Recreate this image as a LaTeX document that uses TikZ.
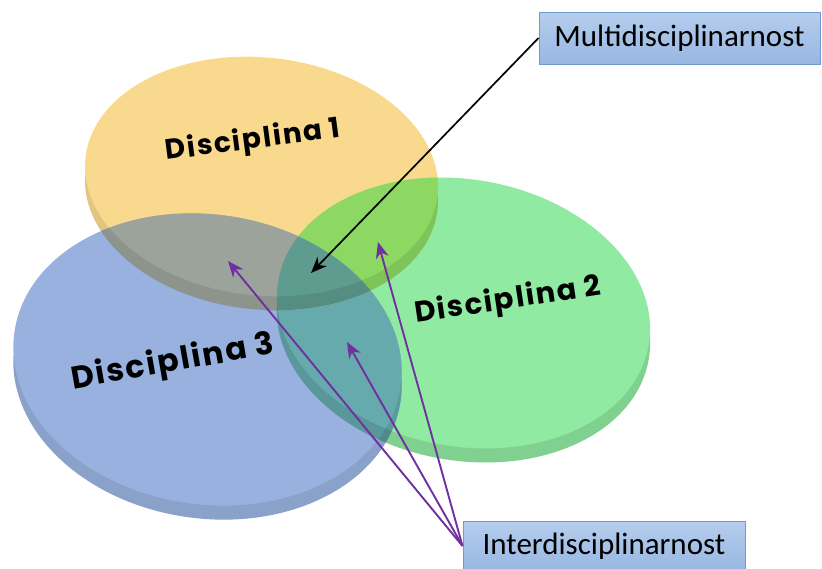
\documentclass[tikz,border=0pt]{standalone}
\usepackage{fontspec}
\setmainfont{Carlito}
\newfontfamily\discfont{Poppins}[LetterSpace=6]
\usetikzlibrary{arrows.meta}
\definecolor{ycol}{HTML}{F9D98D}
\definecolor{gcol}{HTML}{90EAA2}
\definecolor{bcol}{HTML}{98B1DE}
\definecolor{ygcol}{HTML}{8CD862}
\definecolor{ybcol}{HTML}{9CA39A}
\definecolor{gbcol}{HTML}{66AAAE}
\definecolor{ygbcol}{HTML}{5F9C90}
\definecolor{boxtop}{HTML}{B6CEEE}
\definecolor{boxbot}{HTML}{97B6E1}
\definecolor{boxline}{HTML}{6F99CF}
\definecolor{purp}{HTML}{7030A0}
\def\Ytop{(261.5,176.5) ellipse[x radius=177,y radius=119,rotate=-6]}
\def\Yside{(261.5,190.5) ellipse[x radius=177,y radius=119,rotate=-6]}
\def\Gtop{(463.5,313) ellipse[x radius=188,y radius=133.5,rotate=-10]}
\def\Gside{(463.5,327) ellipse[x radius=188,y radius=133.5,rotate=-10]}
\def\Btop{(207.5,359.5) ellipse[x radius=195,y radius=145,rotate=-8]}
\def\Bside{(207.5,373.5) ellipse[x radius=195,y radius=145,rotate=-8]}
\begin{document}
\begin{tikzpicture}[x=1pt,y=-1pt,
  infobox/.style={draw=boxline, line width=1pt, top color=boxtop, bottom color=boxbot,
    font=\fontsize{31}{36}\selectfont, text=black, inner sep=0pt},
  disclabel/.style={font=\discfont\bfseries\fontsize{28}{32}\selectfont, text=black, inner sep=0pt},
  multiarrow/.style={draw=black, line width=1.7pt, -{Stealth[length=16pt,width=13pt,inset=5pt]}},
  interarrow/.style={draw=purp, line width=1.9pt, -{Stealth[length=16pt,width=13pt,inset=5pt]}}]
\useasboundingbox (0,0) rectangle (822,568);
% base fills
\fill[ycol] \Ytop \Yside;
\fill[gcol] \Gtop \Gside;
\fill[bcol] \Btop \Bside;
% overlaps
\begin{scope}
  \clip \Gtop \Gside;
  \fill[gbcol] \Btop \Bside;
\end{scope}
\begin{scope}
  \clip \Ytop \Yside;
  \fill[ygcol] \Gtop \Gside;
  \fill[ybcol] \Btop \Bside;
  \clip \Gtop \Gside;
  \fill[ygbcol] \Btop \Bside;
\end{scope}
% rims
\begin{scope}[even odd rule]
  \clip (-50,-50) rectangle (900,700) \Ytop;
  \fill[black, fill opacity=0.09] \Yside;
\end{scope}
\begin{scope}[even odd rule]
  \clip (-50,-50) rectangle (900,700) \Gtop;
  \fill[black, fill opacity=0.11] \Gside;
\end{scope}
\begin{scope}[even odd rule]
  \clip (-50,-50) rectangle (900,700) \Btop;
  \fill[black, fill opacity=0.09] \Bside;
\end{scope}
% labels
\node[disclabel, rotate=7.5] (d1) at (253,141) {Disciplina 1};
\node[disclabel, rotate=8.5, font=\discfont\bfseries\fontsize{29}{33}\selectfont] (d2) at (508,301) {Disciplina 2};
\node[disclabel, rotate=10, font=\discfont\bfseries\fontsize{31.5}{35}\selectfont] (d3) at (173,363) {Disciplina 3};
% boxes
\node[infobox, minimum width=281pt, minimum height=52pt] (multi) at (679.5,38) {Multidisciplinarnost};
\node[infobox, minimum width=282pt, minimum height=50pt] (inter) at (604,546) {Interdisciplinarnost};
% targets
\coordinate (mt) at (311,273);
\coordinate (it1) at (228,261);
\coordinate (it2) at (378,242);
\coordinate (it3) at (347,342);
\draw[multiarrow] (multi.west) -- (mt);
\draw[interarrow] (inter.west) -- (it1);
\draw[interarrow] (inter.west) -- (it2);
\draw[interarrow] (inter.west) -- (it3);
\end{tikzpicture}
\end{document}
